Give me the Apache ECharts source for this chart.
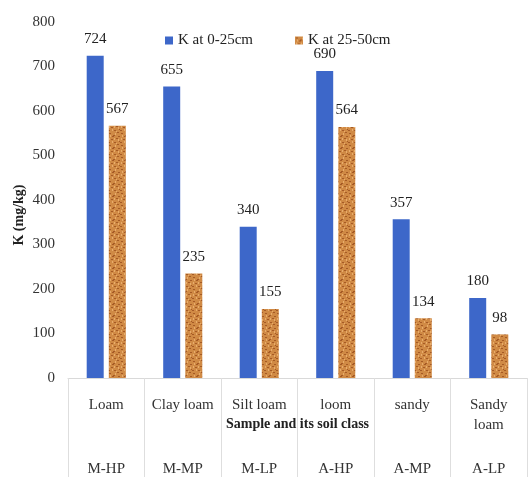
<!DOCTYPE html>
<html>
<head>
<meta charset="utf-8">
<script src="https://cdn.jsdelivr.net/npm/echarts@6/dist/echarts.min.js"></script>
<style>
  html, body { margin: 0; padding: 0; background: #fff; }
  #chart { width: 532px; height: 477px; }
</style>
</head>
<body>
<div id="chart"></div>
<script>
// Soil texture class of each sample
const soilClasses = ['Loam', 'Clay loam', 'Silt loam', 'loom', 'sandy', 'Sandy\nloam'];
// Sample codes shown beneath the soil class
const sampleCodes = ['M-HP', 'M-MP', 'M-LP', 'A-HP', 'A-MP', 'A-LP'];
// Potassium content (mg/kg) by depth
const kTopsoil = [724, 655, 340, 690, 357, 180];
const kSubsoil = [567, 235, 155, 564, 134, 98];
const seriesNames = ['K at 0-25cm', 'K at 25-50cm'];

const serif = 'Liberation Serif, Times New Roman, serif';

// Speckled sand-like fill for the subsoil bars (fixed tile pattern)
function sandTexture() {
  const c = document.createElement('canvas');
  c.width = 12; c.height = 12;
  const g = c.getContext('2d');
  g.fillStyle = '#d08a45';
  g.fillRect(0, 0, 12, 12);
  const dark = [[1,1],[5,3],[9,0],[3,7],[8,6],[11,9],[0,10],[6,10],[4,4],[10,4]];
  const light = [[2,3],[7,1],[10,7],[4,9],[1,6],[8,11],[6,6]];
  g.fillStyle = '#a55a25';
  dark.forEach(p => g.fillRect(p[0], p[1], 2, 1));
  g.fillStyle = '#e8ad6c';
  light.forEach(p => g.fillRect(p[0], p[1], 1, 2));
  return { image: c, repeat: 'repeat' };
}

const chart = echarts.init(document.getElementById('chart'));
const labelStyle = {
  show: true, position: 'top', distance: 9,
  fontFamily: serif, fontSize: 15, color: '#222'
};

chart.setOption({
  animation: false,
  textStyle: { fontFamily: serif },
  legend: {
    data: seriesNames,
    top: 28, left: 160,
    itemWidth: 8, itemHeight: 8, itemGap: 42,
    icon: 'rect',
    textStyle: { fontFamily: serif, fontSize: 15, color: '#222' }
  },
  grid: { left: 68, right: 5, top: 22, bottom: 99 },
  xAxis: [
    {
      type: 'category',
      data: soilClasses,
      position: 'bottom',
      axisLine: { lineStyle: { color: '#d9d9d9', width: 1 } },
      axisTick: { show: true, length: 100, lineStyle: { color: '#dedede' } },
      axisLabel: {
        interval: 0, margin: 17,
        fontFamily: serif, fontSize: 15, color: '#333', lineHeight: 20
      },
      name: 'Sample and its soil class',
      nameLocation: 'middle',
      nameGap: 39,
      nameMoveOverlap: false,
      nameTextStyle: { fontFamily: serif, fontSize: 14, fontWeight: 'bold', color: '#222' }
    },
    {
      type: 'category',
      data: sampleCodes,
      position: 'bottom',
      offset: 82,
      axisLine: { show: false },
      axisTick: { show: false },
      axisLabel: {
        interval: 0, margin: 2,
        fontFamily: serif, fontSize: 15, color: '#333'
      }
    }
  ],
  yAxis: {
    type: 'value',
    min: 0, max: 800, interval: 100,
    axisLine: { show: false },
    axisTick: { show: false },
    splitLine: { show: false },
    axisLabel: { margin: 13, fontFamily: serif, fontSize: 15, color: '#333' },
    name: 'K (mg/kg)',
    nameLocation: 'middle',
    nameGap: 42,
    nameMoveOverlap: false,
    nameTextStyle: { fontFamily: serif, fontSize: 14, fontWeight: 'bold', color: '#222', padding: [0, 0, 0, -30] }
  },
  series: [
    {
      name: seriesNames[0],
      type: 'bar',
      data: kTopsoil,
      barWidth: 17,
      barGap: '30%',
      itemStyle: { color: '#3d67c9' },
      label: labelStyle
    },
    {
      name: seriesNames[1],
      type: 'bar',
      data: kSubsoil,
      barWidth: 17,
      itemStyle: { color: sandTexture() },
      label: labelStyle
    }
  ]
});
</script>
</body>
</html>
